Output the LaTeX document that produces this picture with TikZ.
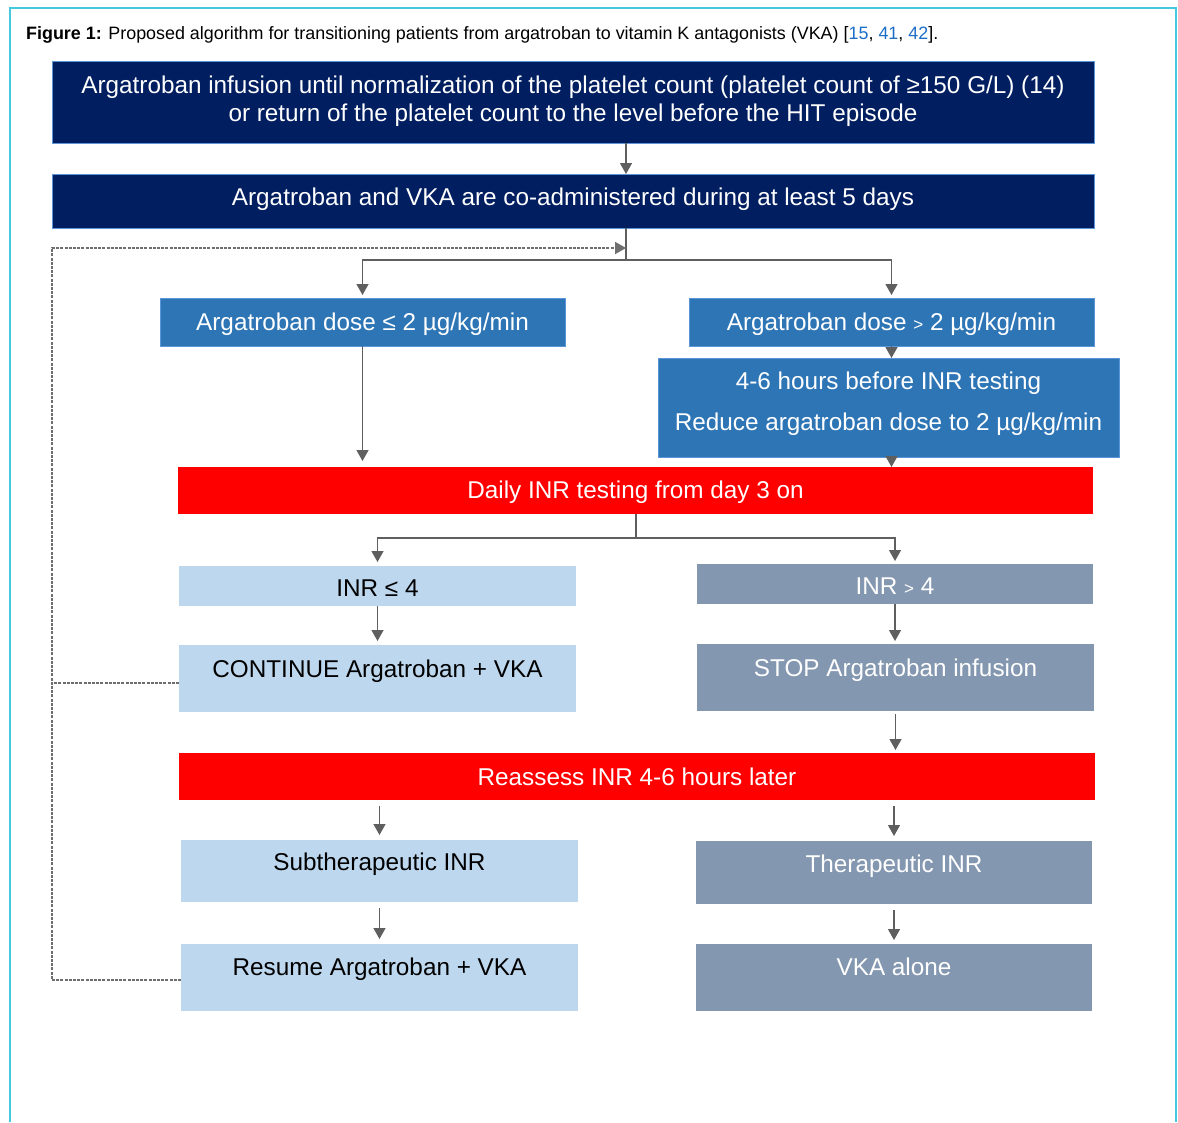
\documentclass[tikz,border=0pt]{standalone}
\usepackage{fontspec}
\setmainfont{Liberation Sans}
\usetikzlibrary{arrows.meta,calc}
\definecolor{navy}{RGB}{0,30,96}
\definecolor{edgeblue}{RGB}{90,150,215}
\definecolor{midblue}{RGB}{46,117,182}
\definecolor{lightblue}{RGB}{189,215,238}
\definecolor{greyblue}{RGB}{132,151,176}
\definecolor{redfill}{RGB}{255,0,0}
\definecolor{arrgrey}{RGB}{95,95,95}
\definecolor{dashgrey}{RGB}{110,110,110}
\definecolor{framecyan}{RGB}{70,200,222}
\definecolor{citeblue}{RGB}{30,110,200}
\tikzset{
  boxbase/.style={rectangle, inner sep=0pt, outer sep=0pt, font=\fontsize{24.3}{28}\selectfont},
  txt/.style 2 args={text height=#1, text depth=#2},
  navybox/.style={boxbase, fill=navy, draw=edgeblue, line width=0.8pt, text=white},
  midbox/.style={boxbase, fill=midblue, draw=edgeblue, line width=0.6pt, text=white},
  redbox/.style={boxbase, fill=redfill, text=white},
  lightbox/.style={boxbase, fill=lightblue, text=black},
  greybox/.style={boxbase, fill=greyblue, text=white},
  conn/.style={draw=arrgrey, line width=1.3pt},
  arr/.style={conn, -{Triangle[width=12pt,length=11pt]}},
  fback/.style={draw=dashgrey, line width=2pt, dash pattern=on 3pt off 1.2pt},
  frameline/.style={draw=framecyan, line width=1.5pt}
}
\begin{document}
\begin{tikzpicture}[x=1pt, y=-1pt]
\useasboundingbox (0,0) rectangle (1178,1122);
\fill[white] (0,0) rectangle (1178,1122);
\draw[frameline] (10,1122) -- (10,8) -- (1176,8) -- (1176,1122);

\node[anchor=base west, inner sep=0pt, font=\fontsize{17.9}{21}\selectfont] (cap) at (26,39)
  {\textbf{Figure 1:} Proposed algorithm for transitioning patients from argatroban to vitamin K antagonists (VKA) [\textcolor{citeblue}{15}, \textcolor{citeblue}{41}, \textcolor{citeblue}{42}].};

% boxes
\node[navybox, minimum width=1042pt, minimum height=82pt, align=center] (b1) at (573,102)
  {Argatroban infusion until normalization of the platelet count (platelet count of ≥150 G/L) (14)\\or return of the platelet count to the level before the HIT episode\rule[-7pt]{0pt}{7pt}};
\node[navybox, txt={17pt}{8pt}, minimum width=1042pt, minimum height=54pt] (b2) at (573,201)
  {Argatroban and VKA are co-administered during at least 5 days};
\node[midbox, txt={21pt}{5pt}, minimum width=405pt, minimum height=48pt] (b3) at (362.5,322)
  {Argatroban dose ≤ 2 µg/kg/min};
\node[midbox, txt={21pt}{5pt}, minimum width=405pt, minimum height=48pt] (b4) at (891.5,322)
  {Argatroban dose {\fontsize{17}{17}\selectfont >} 2 µg/kg/min};
\node[midbox, minimum width=461pt, minimum height=99pt, align=center, font=\fontsize{24.3}{41}\selectfont] (b5) at (888.5,407.5)
  {4-6 hours before INR testing\\Reduce argatroban dose to 2 µg/kg/min\rule[-13pt]{0pt}{13pt}};
\node[redbox, txt={21pt}{5pt}, minimum width=915pt, minimum height=47pt] (r1) at (635.5,490.5)
  {Daily INR testing from day 3 on};
\node[lightbox, txt={25pt}{5pt}, minimum width=397pt, minimum height=40pt] (b7) at (377.5,586)
  {INR ≤ 4};
\node[greybox, txt={25pt}{5pt}, minimum width=396pt, minimum height=40pt] (b8) at (895,584)
  {INR {\fontsize{17}{17}\selectfont >} 4};
\node[lightbox, txt={17pt}{20pt}, minimum width=397pt, minimum height=67pt] (b9) at (377.5,678.5)
  {CONTINUE Argatroban + VKA};
\node[greybox, txt={17pt}{19pt}, minimum width=397pt, minimum height=67pt] (b10) at (895.5,677.5)
  {STOP Argatroban infusion};
\node[redbox, txt={23pt}{5pt}, minimum width=916pt, minimum height=47pt] (r2) at (637,776.5)
  {Reassess INR 4-6 hours later};
\node[lightbox, txt={17pt}{18pt}, minimum width=397pt, minimum height=62pt] (b12) at (379.5,871)
  {Subtherapeutic INR};
\node[greybox, txt={17pt}{17pt}, minimum width=396pt, minimum height=63pt] (b13) at (894,872.5)
  {Therapeutic INR};
\node[lightbox, txt={17pt}{21pt}, minimum width=397pt, minimum height=67pt] (b14) at (379.5,977.5)
  {Resume Argatroban + VKA};
\node[greybox, txt={17pt}{21pt}, minimum width=396pt, minimum height=67pt] (b15) at (894,977.5)
  {VKA alone};

% connectors
\coordinate (c626) at (626,0);
\coordinate (j1) at (626,260);
\coordinate (j2) at (636,538);
\coordinate (fbtop) at (52,248);

\draw[arr] (b1.south -| c626) -- (b2.north -| c626);
\draw[conn] (b2.south -| c626) -- (j1);
\draw[arr, shorten >=3pt] (j1) -| (b3.north);
\draw[arr, shorten >=3pt] (j1) -| (b4.north);
\draw[arr] (b4.south) -- (b5.north -| b4.south);
\draw[arr] (b5.south -| b4.south) -- (r1.north -| b4.south);
\draw[arr, shorten >=6pt] (b3.south) -- (r1.north -| b3.south);
\draw[conn] (r1.south -| j2) -- (j2);
\draw[arr, shorten >=4pt] (j2) -| (b7.north);
\draw[arr, shorten >=3pt] (j2) -| (b8.north);
\draw[arr, shorten >=4pt] (b7.south) -- (b9.north);
\draw[arr, shorten >=3pt] (b8.south) -- (b10.north -| b8.south);
\draw[arr, shorten <=3pt, shorten >=3pt] (b10.south) -- (r2.north -| b10.south);
\draw[arr, shorten <=6pt, shorten >=5pt] (r2.south -| b12.north) -- (b12.north);
\draw[arr, shorten <=6pt, shorten >=5pt] (r2.south -| b13.north) -- (b13.north);
\draw[arr, shorten <=6pt, shorten >=5pt] (b12.south) -- (b14.north);
\draw[arr, shorten <=6pt, shorten >=4pt] (b13.south) -- (b15.north);

% feedback loop
\draw[fback] ($(b9.west)+(0,4.5)$) -- ($(b9.west -| fbtop)+(0,4.5)$);
\draw[fback, -{Triangle[width=12pt,length=11pt]}] ($(b14.west)+(0,2.5)$) -| (fbtop) -- (fbtop -| c626);
\end{tikzpicture}
\end{document}
